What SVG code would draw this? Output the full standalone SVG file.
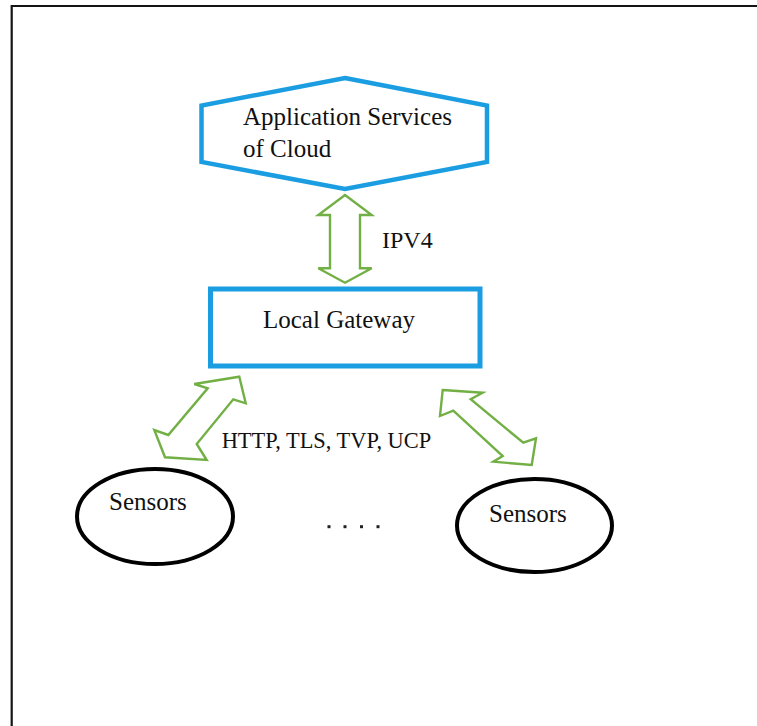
<svg xmlns="http://www.w3.org/2000/svg" width="757" height="726" viewBox="0 0 757 726">
  <style>
    .frame { fill: none; stroke: #141414; stroke-width: 2.2; }
    .blue { fill: #ffffff; stroke: #1b9de1; }
    .sensor { fill: #ffffff; stroke: #000000; stroke-width: 4; }
    .link { fill: #ffffff; stroke: #72b046; stroke-width: 2.4; stroke-linejoin: miter; }
    .lbl { fill: #111111; }
    .dot { fill: #222222; }
  </style>

  <rect x="0" y="0" width="757" height="726" fill="#ffffff"/>

  <!-- outer frame (right and bottom edges run off the canvas) -->
  <path class="frame" d="M11.7,726 V6 H757"/>

  <g font-family="'Liberation Serif', Tinos, 'Times New Roman', serif">
    <!-- cloud services -->
    <g id="cloud">
      <polygon class="blue" stroke-width="4.5" points="345,78 487,105.5 487,162 345,189 201.5,162 201.5,105.5"/>
      <text class="lbl" x="243" y="125" font-size="25">Application Services</text>
      <text class="lbl" x="243" y="156.7" font-size="25">of Cloud</text>
    </g>

    <!-- gateway -->
    <g id="gateway">
      <rect class="blue" stroke-width="5" x="210.5" y="289" width="269.5" height="77"/>
      <text class="lbl" x="263" y="328" font-size="25">Local Gateway</text>
    </g>

    <!-- sensor nodes -->
    <g id="sensors-left">
      <ellipse class="sensor" cx="155" cy="516.5" rx="78" ry="47.5"/>
      <text class="lbl" x="109" y="510" font-size="25">Sensors</text>
    </g>

    <g id="sensors-right">
      <ellipse class="sensor" cx="534.5" cy="525.5" rx="77.5" ry="46.5"/>
      <text class="lbl" x="489" y="521.7" font-size="25">Sensors</text>
    </g>

    <g id="ellipsis">
      <rect class="dot" x="327.5" y="525.2" width="3" height="3"/>
      <rect class="dot" x="343.5" y="525.2" width="3" height="3"/>
      <rect class="dot" x="360" y="525.2" width="3" height="3"/>
      <rect class="dot" x="376.5" y="525.2" width="3" height="3"/>
    </g>

    <!-- double-headed block arrows between tiers -->
    <g id="connectors">
      <polygon class="link" points="345,195 371.7,215 360,215 360,268.3 371.7,268.3 345,282.7 318.3,268.3 330,268.3 330,215 318.3,215"/>
      <text class="lbl" x="382" y="248" font-size="24">IPV4</text>

      <polygon class="link" points="239.3,376.7 245.7,403.3 233.3,399.3 196.7,444 206.7,460 165,457.3 154.3,430 168.3,435 207.7,388.3 194.3,384"/>
      <text class="lbl" x="221.7" y="448.3" font-size="22.4">HTTP, TLS, TVP, UCP</text>

      <polygon class="link" points="442.7,390 482.7,392.7 470.7,399.3 523.3,442.7 536,438.3 531.7,465 493.3,461.7 502.7,456 453.3,410.7 440,416"/>
    </g>
  </g>
</svg>
